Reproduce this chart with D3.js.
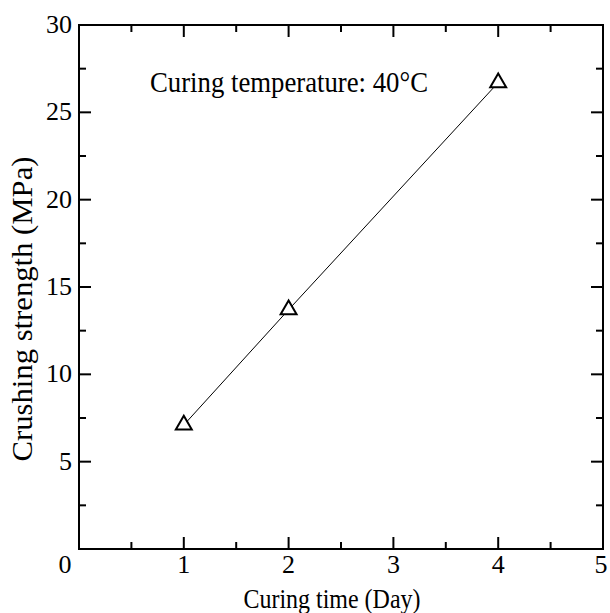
<!DOCTYPE html>
<html>
<head>
<meta charset="utf-8">
<script src="https://cdn.jsdelivr.net/npm/d3@7"></script>
<style>
  body { margin: 0; background: #fff; }
  text { font-family: "Liberation Serif", "Times New Roman", serif; fill: #000; }
</style>
</head>
<body>
<div id="chart"></div>
<script>
var days = [1, 2, 4];
var strength = [7.1, 13.7, 26.7];
var xTicks = [0, 1, 2, 3, 4, 5];
var yTicks = [5, 10, 15, 20, 25, 30];
var xMinor = [0.5, 1.5, 2.5, 3.5, 4.5];
var yMinor = [2.5, 7.5, 12.5, 17.5, 22.5, 27.5];
var note = "Curing temperature: 40\u00B0C";

var margin = {top: 25, right: 7, bottom: 64, left: 79};
var width = 610 - margin.left - margin.right;
var height = 613 - margin.top - margin.bottom;

var svg = d3.select("#chart").append("svg")
    .attr("width", 610)
    .attr("height", 613)
  .append("g")
    .attr("transform", "translate(" + margin.left + "," + margin.top + ")");

var x = d3.scaleLinear().domain([0, 5]).range([0, width]);
var y = d3.scaleLinear().domain([0, 30]).range([height, 0]);

// inward ticks on all four sides
function ticks(sel, vals, len, side) {
    sel.selectAll(null).data(vals).enter().append("line")
        .attr("x1", function(d) { return side == "b" || side == "t" ? x(d) : (side == "l" ? 0 : width); })
        .attr("x2", function(d) { return side == "b" || side == "t" ? x(d) : (side == "l" ? len : width - len); })
        .attr("y1", function(d) { return side == "l" || side == "r" ? y(d) : (side == "b" ? height : 0); })
        .attr("y2", function(d) { return side == "l" || side == "r" ? y(d) : (side == "b" ? height - len : len); })
        .attr("stroke", "#000")
        .attr("stroke-width", 2);
}
var tk = svg.append("g").attr("class", "ticks");
ticks(tk, xTicks.slice(1, -1), 12, "b");
ticks(tk, xTicks.slice(1, -1), 12, "t");
ticks(tk, xMinor, 7, "b");
ticks(tk, xMinor, 7, "t");
ticks(tk, yTicks.slice(0, -1), 12, "l");
ticks(tk, yTicks.slice(0, -1), 12, "r");
ticks(tk, yMinor, 7, "l");
ticks(tk, yMinor, 7, "r");

svg.append("rect")
    .attr("width", width)
    .attr("height", height)
    .attr("fill", "none")
    .attr("stroke", "#000")
    .attr("stroke-width", 2);

svg.append("g").selectAll("text").data(xTicks).enter().append("text")
    .attr("x", function(d) { return d == 0 ? x(d) - 14 : (d == 5 ? x(d) - 2 : x(d)); })
    .attr("y", height + 24)
    .attr("text-anchor", "middle")
    .style("font-size", "26px")
    .text(function(d) { return d; });

svg.append("g").selectAll("text").data(yTicks).enter().append("text")
    .attr("x", -7)
    .attr("y", function(d) { return y(d) + 8; })
    .attr("text-anchor", "end")
    .style("font-size", "26px")
    .text(function(d) { return d; });

svg.append("text")
    .attr("x", width / 2 - 9)
    .attr("y", height + 59)
    .attr("text-anchor", "middle")
    .attr("textLength", 177)
    .attr("lengthAdjust", "spacingAndGlyphs")
    .style("font-size", "27px")
    .text("Curing time (Day)");

svg.append("text")
    .attr("transform", "translate(-47," + (height / 2 + 22) + ") rotate(-90)")
    .attr("text-anchor", "middle")
    .attr("textLength", 305)
    .attr("lengthAdjust", "spacingAndGlyphs")
    .style("font-size", "30px")
    .text("Crushing strength (MPa)");

svg.append("text")
    .attr("x", 71)
    .attr("y", 67)
    .attr("textLength", 278)
    .attr("lengthAdjust", "spacingAndGlyphs")
    .style("font-size", "30px")
    .text(note);

var pts = days.map(function(d, i) { return [d, strength[i]]; });

svg.append("path")
    .datum(pts)
    .attr("fill", "none")
    .attr("stroke", "#000")
    .attr("stroke-width", 1)
    .attr("d", d3.line().x(function(d) { return x(d[0]); }).y(function(d) { return y(d[1]); }));

svg.selectAll(".pt").data(pts).enter().append("path")
    .attr("class", "pt")
    .attr("transform", function(d) { return "translate(" + x(d[0]) + "," + y(d[1]) + ")"; })
    .attr("d", d3.symbol().type(d3.symbolTriangle).size(110))
    .attr("fill", "#fff")
    .attr("stroke", "#000")
    .attr("stroke-width", 2);
</script>
</body>
</html>
